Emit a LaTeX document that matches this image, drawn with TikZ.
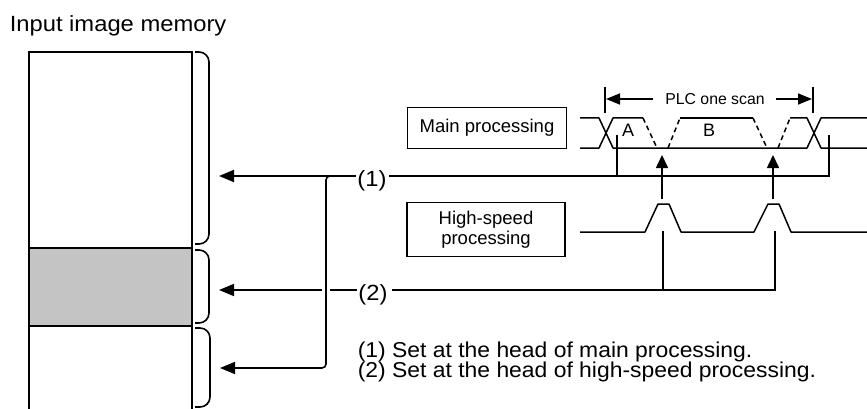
\documentclass[tikz,border=0pt]{standalone}
\usepackage{fontspec}
\setmainfont{Liberation Sans}
\newfontfamily\widefont[FakeStretch=1.08]{Liberation Sans}
\newfontfamily\notefont[FakeStretch=1.065]{Liberation Sans}
\usetikzlibrary{arrows.meta}
\definecolor{memgray}{RGB}{196,196,196}
\begin{document}
\begin{tikzpicture}[x=1pt,y=-1pt,line width=1.6pt,
  arr/.style={-{Triangle[length=15pt,width=12pt]}},
  uparr/.style={-{Triangle[length=13pt,width=12pt]}},
  dimarr/.style={-{Triangle[length=14pt,width=11pt]}},
  wave/.style={line width=1.5pt,line join=round},
  dwave/.style={wave,dash pattern=on 5pt off 3.5pt},
  bracegroup/.style={rounded corners=10pt},
  big/.style={font=\widefont\fontsize{22}{26}\selectfont,inner sep=0pt},
  note/.style={font=\notefont\fontsize{21.5}{25}\selectfont,inner sep=0pt},
  mid/.style={font=\fontsize{18.5}{20}\selectfont},
  small/.style={font=\fontsize{15.8}{18}\selectfont,inner sep=0pt},
  lbl/.style={font=\fontsize{18}{20}\selectfont,inner sep=0pt},
  procbox/.style={draw,line width=1.6pt,mid,align=center,inner sep=0pt}]
\useasboundingbox (0,0) rectangle (867,409);

% title
\node[big,anchor=base west] (title) at (9,31.5) {Input image memory};

% memory
\fill[memgray] (29,248) rectangle (192,326);
\draw (29,409) -- (29,52) -- (192,52) -- (192,409);
\draw (29,248) -- (192,248);
\draw (29,326) -- (192,326);

% braces
\draw[bracegroup] (195,52) -- (209,52) -- (209,244) -- (195,244);
\draw[bracegroup] (195,250) -- (209,250) -- (209,323) -- (195,323);
\draw[bracegroup] (195,328) -- (210,328) -- (210,407) -- (195,407);

% arrow tips
\coordinate (t1) at (219,176);
\coordinate (t2) at (219,290);
\coordinate (t3) at (220,368);

% labels (1) (2)
\node[big] (l1) at (372,181) {(1)};
\node[big] (l2) at (373,295) {(2)};
\coordinate (l1w) at (356,176);
\coordinate (l1e) at (389,176);
\coordinate (l2w) at (356.5,290);
\coordinate (l2e) at (391.5,290);

% (1) connector
\coordinate (j1) at (340,176);
\coordinate (b1) at (326,176);
\coordinate (b2) at (326,368);
\draw[arr] (l1w) -- (t1);
\draw[arr,rounded corners=4pt] (j1) -- (b1) -- (b2) -- (t3);
\coordinate (r1) at (829,176);
\coordinate (r1t) at (829,135);
\coordinate (v1b) at (617,176);
\coordinate (v1t) at (617,135);
\draw (l1e) -- (r1) -- (r1t);
\draw (v1b) -- (v1t);

% (2) connector
\coordinate (g2a) at (330,290);
\coordinate (g2b) at (321.5,290);
\draw (l2w) -- (g2a);
\draw[arr] (g2b) -- (t2);
\coordinate (r2) at (775,290);
\coordinate (r2t) at (775,231);
\coordinate (v2b) at (663,290);
\coordinate (v2t) at (663,231);
\draw (l2e) -- (r2) -- (r2t);
\draw (v2b) -- (v2t);

% boxes
\node[procbox,minimum width=159pt,minimum height=41pt] (main) at (487,128) {Main processing};
\node[procbox,minimum width=158pt,minimum height=54pt] (hs) at (486,229.5) {High-speed\\processing};

% PLC one scan
\draw (605,87) -- (605,113);
\draw (813,87) -- (813,113);
\node[small] (plc) at (715,99) {PLC one scan};
\coordinate (pl) at (606,99);
\coordinate (pr) at (812,99);
\draw[dimarr] (653,99) -- (pl);
\draw[dimarr] (776,99) -- (pr);

% main waveform
\draw[wave] (580,148) -- (599,148) -- (613,118) -- (643,118);
\draw[wave] (580,118) -- (599,118) -- (613,148) -- (807,148) -- (821,118) -- (867,118);
\draw[wave] (790,118) -- (807,118) -- (821,148) -- (867,148);
\draw[wave] (680,118) -- (753,118);
\draw[dwave] (643,118) -- (657,148);
\draw[dwave] (668,148) -- (680,118);
\draw[dwave] (753,118) -- (767,148);
\draw[dwave] (778,148) -- (790,118);
\node[lbl] (A) at (628,130) {A};
\node[lbl] (B) at (709,130) {B};

% high-speed waveform
\draw[wave] (580,232) -- (645,232) -- (658,204) -- (669,204) -- (681,232) -- (754,232) -- (768,204) -- (779,204) -- (791,232) -- (867,232);

% up arrows
\coordinate (u1) at (662,155);
\coordinate (u2) at (773,155);
\draw[uparr] (662,199) -- (u1);
\draw[uparr] (773,199) -- (u2);

% notes
\node[note,anchor=base west] (n1) at (357,357) {(1) Set at the head of main processing.};
\node[note,anchor=base west] (n2) at (357,377) {(2) Set at the head of high-speed processing.};
\end{tikzpicture}
\end{document}
